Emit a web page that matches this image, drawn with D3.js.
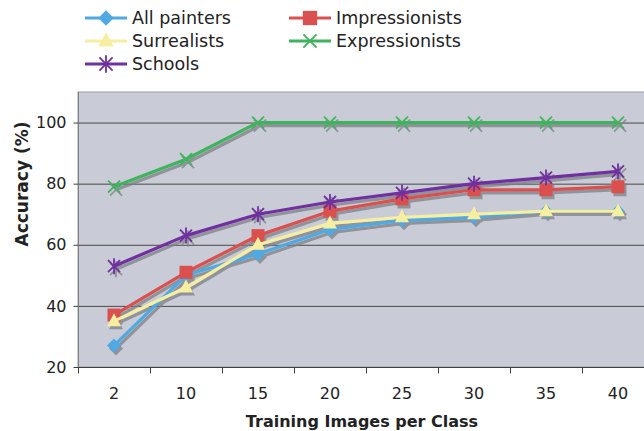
<!DOCTYPE html>
<html>
<head>
<meta charset="utf-8">
<script src="https://cdn.jsdelivr.net/npm/d3@7"></script>
<style>
  html, body { margin: 0; padding: 0; background: #fff; }
  svg { display: block; font-family: "DejaVu Sans", Verdana, sans-serif; }
</style>
</head>
<body>
<svg id="chart" width="644" height="431"></svg>
<script>
// Training set sizes (images per class)
const categories = ["2", "10", "15", "20", "25", "30", "35", "40"];

// Accuracy (%) per training size
const allPainters    = [27, 50, 57, 65, 68, 69, 71, 71];
const impressionists = [37, 51, 63, 71, 75, 78, 78, 79];
const surrealists    = [35, 46, 60, 67, 69, 70, 71, 71];
const expressionists = [79, 88, 100, 100, 100, 100, 100, 100];
const schools        = [53, 63, 70, 74, 77, 80, 82, 84];

const yTicks = [20, 40, 60, 80, 100];

const series = [
  { name: "All painters",   values: allPainters,    color: "#4fa9e2", marker: "diamond" },
  { name: "Impressionists", values: impressionists, color: "#d9504f", marker: "square" },
  { name: "Surrealists",    values: surrealists,    color: "#f6eea0", marker: "triangle" },
  { name: "Expressionists", values: expressionists, color: "#3fb35d", marker: "x" },
  { name: "Schools",        values: schools,        color: "#7030a0", marker: "star" }
];

const svg = d3.select("#chart");
const plot = { left: 78, top: 92, right: 654, bottom: 367 };

const x = d3.scaleBand().domain(categories).range([plot.left, plot.right]).padding(0);
const y = d3.scaleLinear().domain([20, 110]).range([plot.bottom, plot.top]);
const cx = c => x(c) + x.bandwidth() / 2;

// Plot background
svg.append("rect")
  .attr("x", plot.left).attr("y", plot.top)
  .attr("width", plot.right - plot.left).attr("height", plot.bottom - plot.top)
  .attr("fill", "#c9ccd6")
  .attr("stroke", "#9a9ca4").attr("stroke-width", 1);

// Horizontal gridlines
svg.append("g").selectAll("line")
  .data(yTicks.filter(t => t > 20))
  .join("line")
  .attr("x1", plot.left).attr("x2", plot.right)
  .attr("y1", d => y(d) + 0.5).attr("y2", d => y(d) + 0.5)
  .attr("stroke", "#4a4a4a").attr("stroke-width", 1);

// Y axis
const yAxis = svg.append("g")
  .attr("transform", `translate(${plot.left + 0.5},0)`)
  .call(d3.axisLeft(y).tickValues(yTicks).tickSize(5).tickPadding(7));
yAxis.select(".domain").attr("stroke", "#808080").attr("d", `M0,${plot.top}V${plot.bottom}`);
yAxis.selectAll(".tick line").attr("stroke", "#404040");
yAxis.selectAll(".tick text")
  .attr("font-size", 16).attr("fill", "#222")
  .attr("font-family", "DejaVu Sans, Verdana, sans-serif");

// X axis: ticks at category boundaries, labels centred in each band
const xAxisG = svg.append("g").attr("transform", `translate(0,${plot.bottom + 0.5})`);
xAxisG.append("line")
  .attr("x1", plot.left).attr("x2", plot.right)
  .attr("stroke", "#404040");
xAxisG.selectAll("line.tk")
  .data(categories)
  .join("line").attr("class", "tk")
  .attr("x1", d => x(d) + 0.5).attr("x2", d => x(d) + 0.5)
  .attr("y1", 0).attr("y2", 6)
  .attr("stroke", "#404040");
xAxisG.selectAll("text")
  .data(categories)
  .join("text")
  .attr("x", d => cx(d)).attr("y", 31)
  .attr("text-anchor", "middle")
  .attr("font-size", 16).attr("fill", "#222")
  .text(d => d);

// Axis titles
svg.append("text")
  .attr("x", 362).attr("y", 427)
  .attr("text-anchor", "middle")
  .attr("font-size", 16).attr("font-weight", "bold").attr("fill", "#222")
  .text("Training Images per Class");
svg.append("text")
  .attr("transform", "translate(28,184) rotate(-90)")
  .attr("text-anchor", "middle")
  .attr("font-size", 17).attr("font-weight", "bold").attr("fill", "#222")
  .text("Accuracy (%)");

// Marker drawing
function drawMarker(g, type, color, px, py, k = 1) {
  if (type === "diamond") {
    const r = 7 * k;
    g.append("path").attr("d", `M${px},${py - r}L${px + r},${py}L${px},${py + r}L${px - r},${py}Z`)
      .attr("fill", color);
  } else if (type === "square") {
    const h = 6.5 * k;
    g.append("rect").attr("x", px - h).attr("y", py - h).attr("width", 2 * h).attr("height", 2 * h)
      .attr("fill", color);
  } else if (type === "triangle") {
    g.append("path").attr("d", `M${px},${py - 8 * k}L${px + 7 * k},${py + 5 * k}L${px - 7 * k},${py + 5 * k}Z`)
      .attr("fill", color);
  } else if (type === "x") {
    const r = 6 * k;
    g.append("path").attr("d", `M${px - r},${py - r}L${px + r},${py + r}M${px - r},${py + r}L${px + r},${py - r}`)
      .attr("stroke", color).attr("stroke-width", 1.8).attr("fill", "none");
  } else if (type === "star") {
    const r = 6 * k;
    g.append("path").attr("d",
      `M${px - r},${py - r}L${px + r},${py + r}M${px - r},${py + r}L${px + r},${py - r}M${px},${py - 8 * k}L${px},${py + 8 * k}`)
      .attr("stroke", color).attr("stroke-width", 1.8).attr("fill", "none");
  }
}

const line = d3.line().x((d, i) => cx(categories[i])).y(d => y(d));

// Drop shadows first, then coloured series on top
const shadowG = svg.append("g").attr("transform", "translate(2,3)").attr("opacity", 0.75);
series.forEach(s => {
  shadowG.append("path").attr("d", line(s.values))
    .attr("fill", "none").attr("stroke", "#7f8088").attr("stroke-width", 3.2)
    .attr("stroke-linejoin", "round");
  s.values.forEach((v, i) => drawMarker(shadowG, s.marker, "#7f8088", cx(categories[i]), y(v)));
});

const seriesG = svg.append("g");
series.forEach(s => {
  const g = seriesG.append("g");
  g.append("path").attr("d", line(s.values))
    .attr("fill", "none").attr("stroke", s.color).attr("stroke-width", 3.2)
    .attr("stroke-linejoin", "round");
  s.values.forEach((v, i) => drawMarker(g, s.marker, s.color, cx(categories[i]), y(v)));
});

// Legend
const legendPos = [
  { x: 85, y: 18 }, { x: 289, y: 18 },
  { x: 85, y: 41 }, { x: 289, y: 41 },
  { x: 85, y: 64 }
];
const legendOrder = ["All painters", "Impressionists", "Surrealists", "Expressionists", "Schools"];
legendOrder.forEach((name, k) => {
  const s = series.find(d => d.name === name);
  const p = legendPos[k];
  const g = svg.append("g");
  g.append("line").attr("x1", p.x).attr("x2", p.x + 42).attr("y1", p.y).attr("y2", p.y)
    .attr("stroke", s.color).attr("stroke-width", 3.2);
  drawMarker(g, s.marker, s.color, p.x + 21, p.y, 1.1);
  g.append("text").attr("x", p.x + 47).attr("y", p.y + 6)
    .attr("font-size", 17.5).attr("fill", "#222").text(s.name);
});
</script>
</body>
</html>
